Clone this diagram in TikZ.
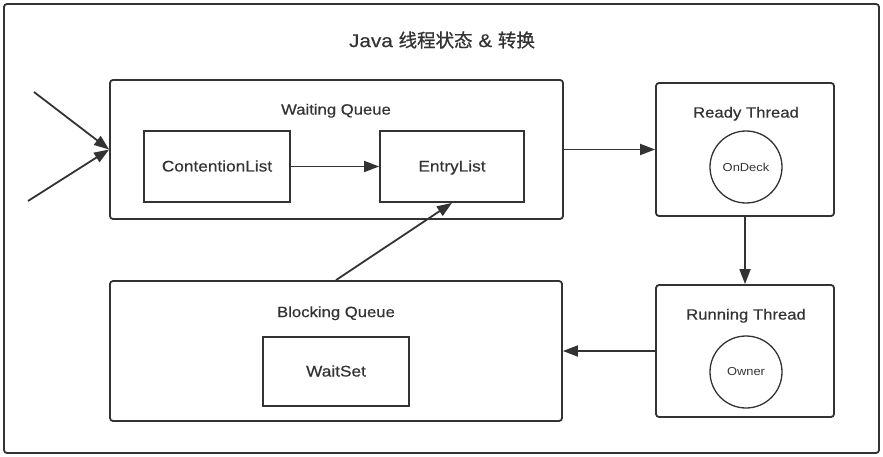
\documentclass[tikz,border=0pt]{standalone}
\usepackage{fontspec}
\setmainfont{Liberation Sans}[FakeStretch=1.12,FakeBold=0.5]
\newfontfamily\lightsans{Liberation Sans}[FakeStretch=1.12]
\newfontfamily\cjk{Noto Sans CJK SC}[FakeBold=0.8]
\usetikzlibrary{arrows.meta}
\definecolor{ink}{HTML}{333333}

\begin{document}
\begin{tikzpicture}[x=1pt,y=-1pt,>={Triangle[length=15pt,width=11pt]},
                line width=1.8pt,draw=ink,text=ink,
                queue box/.style={draw=ink,rounded corners=3pt,inner sep=0pt},
                list box/.style={draw=ink,inner sep=0pt,text height=1em,text depth=0pt,font=\fontsize{15.4}{17}\selectfont},
                state circle/.style={circle,draw=ink,line width=1.3pt,minimum size=72pt,inner sep=0pt,font=\lightsans\fontsize{11.5}{13}\selectfont},
                caption/.style={font=\fontsize{14.9}{17}\selectfont,inner sep=0pt,text height=0.72em,text depth=0.2em}]

  \useasboundingbox (0,0) rectangle (883,457);
  \draw[rounded corners=3pt] (4,4) rectangle (879,453);

  \node[font=\fontsize{18.5}{20}\selectfont,inner sep=0pt] (title) at (442,40) {Java {\cjk 线程状态} \& {\cjk 转换}};

  % queues
  \node[queue box,minimum width=453pt,minimum height=139pt] (waiting) at (336.5,149.5) {};
  \node[caption] (waitingLabel) at (336,112) {Waiting Queue};
  \node[list box,minimum width=146pt,minimum height=71pt] (contention) at (217,166.5) {ContentionList};
  \node[list box,minimum width=144pt,minimum height=71pt] (entry) at (452,166.5) {EntryList};

  \node[queue box,minimum width=452pt,minimum height=140pt] (blocking) at (336,351) {};
  \node[caption] (blockingLabel) at (336,314.5) {Blocking Queue};
  \node[list box,minimum width=146pt,minimum height=69pt] (waitset) at (336,371.5) {WaitSet};

  % threads
  \node[queue box,minimum width=178pt,minimum height=133pt] (ready) at (745,149.5) {};
  \node[caption] (readyLabel) at (746,115) {Ready Thread};
  \node[state circle] (ondeck) at (746,167) {OnDeck};

  \node[queue box,minimum width=178pt,minimum height=132pt] (running) at (745,351) {};
  \node[caption] (runningLabel) at (746,317) {Running Thread};
  \node[state circle] (owner) at (746,372) {Owner};

  \coordinate (in1) at (34,92);
  \coordinate (in2) at (28,201);

  \path[->]
    (in1) edge (waiting.west)
    (in2) edge (waiting.west)
    (contention) edge (entry)
    (waiting.east) edge (ready.west)
    (ready) edge (running)
    (running.west) edge (blocking.east)
    (blocking.north) edge (entry.south);

\end{tikzpicture}
\end{document}
